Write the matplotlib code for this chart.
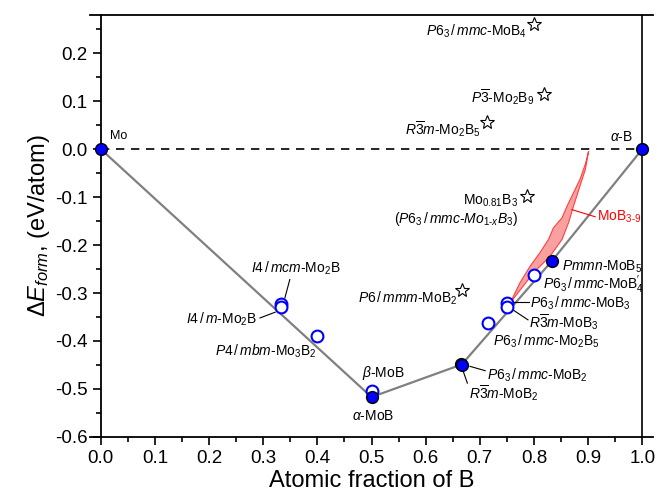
import matplotlib.pyplot as plt
import matplotlib.ticker as mticker

plt.rcParams['font.family'] = ['Liberation Sans', 'DejaVu Sans']
plt.rcParams['mathtext.fontset'] = 'custom'
plt.rcParams['mathtext.rm'] = 'Liberation Sans'
plt.rcParams['mathtext.it'] = 'Liberation Sans:italic'
plt.rcParams['axes.unicode_minus'] = False

# convex hull (stable phases)
hull_x = [0.0, 0.5, 0.6667, 0.8333, 1.0]
hull_y = [0.0, -0.517, -0.449, -0.233, 0.0]

# filled = ground state points
filled_x = [0.0, 1.0, 0.5, 0.665, 0.668, 0.8333]
filled_y = [0.0, 0.0, -0.517, -0.447, -0.451, -0.233]

# open = metastable structures
open_x = [0.3333, 0.3333, 0.4, 0.5, 0.7143, 0.75, 0.75, 0.8]
open_y = [-0.322, -0.330, -0.389, -0.505, -0.363, -0.321, -0.330, -0.262]

# stars = hypothetical / proposed
star_x = [0.8, 0.818, 0.714, 0.787, 0.667]
star_y = [0.262, 0.115, 0.056, -0.098, -0.294]

# MoB3-9 region
reg_left_x = [0.901, 0.895, 0.885, 0.873, 0.861, 0.852, 0.836, 0.827, 0.811, 0.793, 0.774, 0.759, 0.756]
reg_left_y = [-0.004, -0.031, -0.063, -0.091, -0.119, -0.143, -0.164, -0.188, -0.216, -0.244, -0.279, -0.314, -0.321]
reg_right_x = [0.762, 0.799, 0.830, 0.852, 0.864, 0.873, 0.885, 0.895, 0.901]
reg_right_y = [-0.312, -0.258, -0.223, -0.188, -0.153, -0.119, -0.077, -0.042, -0.004]

fig = plt.figure(figsize=(6.57, 4.97), dpi=100)
ax = fig.add_axes([0.137, 0.121, 0.857, 0.849])

ax.fill(reg_left_x + reg_right_x, reg_left_y + reg_right_y,
        facecolor='#f9a0a0', edgecolor='#ff4040', lw=0.8, zorder=1)
ax.plot([0, 1], [0, 0], ls=(0, (5, 4)), color='black', lw=1.2, zorder=1)
ax.plot(hull_x, hull_y, color='gray', lw=1.6, zorder=2)
ax.axvline(1.0, color='black', lw=1.2, zorder=1)

ax.plot(open_x, open_y, 'o', ms=8.5, mfc='white', mec='blue', mew=1.5, ls='none', zorder=3)
ax.plot(filled_x, filled_y, 'o', ms=8.5, mfc='blue', mec='black', mew=1.0, ls='none', zorder=4,
        clip_on=False)
ax.plot(star_x, star_y, '*', ms=10, mfc='white', mec='black', mew=0.8, ls='none', zorder=3)

fs = 10
ax.text(0.017, 0.027, 'Mo', fontsize=9, ha='left', va='center')
ax.text(0.983, 0.025, r'$\alpha$-B', fontsize=10, ha='right', va='center')
ax.text(0.787, 0.245, r'$P6_3\,/\,mmc$-MoB$_4$', fontsize=fs, ha='right', va='center')
ax.text(0.80, 0.109, r'$P\overline{3}$-Mo$_2$B$_9$', fontsize=fs, ha='right', va='center')
ax.text(0.702, 0.042, r'$R\overline{3}m$-Mo$_2$B$_5$', fontsize=fs, ha='right', va='center')
ax.text(0.771, -0.108, r'Mo$_{0.81}$B$_3$', fontsize=fs, ha='right', va='center')
ax.text(0.771, -0.146, r'($P6_3\,/\,mmc$-$Mo_{1\text{-}x}B_3$)', fontsize=fs, ha='right', va='center')
ax.text(0.658, -0.312, r'$P6\,/\,mmm$-MoB$_2$', fontsize=fs, ha='right', va='center')
ax.text(0.852, -0.245, r'$Pmmn$-MoB$_5$', fontsize=fs, ha='left', va='center')
ax.text(0.817, -0.283, r"$P6_3\,/\,mmc$-MoB$_4'$", fontsize=fs, ha='left', va='center')
ax.text(0.793, -0.321, r'$P6_3\,/\,mmc$-MoB$_3$', fontsize=fs, ha='left', va='center')
ax.text(0.791, -0.361, r'$R\overline{3}m$-MoB$_3$', fontsize=fs, ha='left', va='center')
ax.text(0.724, -0.401, r'$P6_3\,/\,mmc$-Mo$_2$B$_5$', fontsize=fs, ha='left', va='center')
ax.text(0.713, -0.472, r'$P6_3\,/\,mmc$-MoB$_2$', fontsize=fs, ha='left', va='center')
ax.text(0.680, -0.509, r'$R\overline{3}m$-MoB$_2$', fontsize=fs, ha='left', va='center')
ax.text(0.521, -0.466, r'$\beta$-MoB', fontsize=fs, ha='center', va='center')
ax.text(0.503, -0.557, r'$\alpha$-MoB', fontsize=fs, ha='center', va='center')
ax.text(0.361, -0.248, r'$I4\,/\,mcm$-Mo$_2$B', fontsize=fs, ha='center', va='center')
ax.text(0.288, -0.355, r'$I4\,/\,m$-Mo$_2$B', fontsize=fs, ha='right', va='center')
ax.text(0.399, -0.421, r'$P4\,/\,mbm$-Mo$_3$B$_2$', fontsize=fs, ha='right', va='center')
ax.text(0.917, -0.141, r'MoB$_{3\text{-}9}$', fontsize=fs, ha='left', va='center', color='red')

# leader lines
lw_l = 0.8
ax.plot([0.349, 0.340], [-0.272, -0.310], color='black', lw=lw_l)
ax.plot([0.294, 0.322], [-0.352, -0.340], color='black', lw=lw_l)
ax.plot([0.762, 0.791], [-0.318, -0.318], color='black', lw=lw_l)
ax.plot([0.761, 0.789], [-0.335, -0.356], color='black', lw=lw_l)
ax.plot([0.682, 0.710], [-0.453, -0.462], color='black', lw=lw_l)
ax.plot([0.669, 0.677], [-0.462, -0.488], color='black', lw=lw_l)
ax.plot([0.870, 0.913], [-0.126, -0.141], color='red', lw=lw_l)

ax.set_xlim(-0.02, 1.02)
ax.set_ylim(-0.6, 0.28)
ax.spines['right'].set_visible(False)
ax.spines['left'].set_position(('data', 0))
for s in ['left', 'bottom', 'top']:
    ax.spines[s].set_linewidth(1.3)

ax.xaxis.set_major_locator(mticker.MultipleLocator(0.1))
ax.xaxis.set_minor_locator(mticker.MultipleLocator(0.05))
ax.yaxis.set_major_locator(mticker.MultipleLocator(0.1))
ax.yaxis.set_minor_locator(mticker.MultipleLocator(0.05))
ax.xaxis.set_major_formatter(mticker.FormatStrFormatter('%.1f'))
ax.yaxis.set_major_formatter(mticker.FormatStrFormatter('%.1f'))
ax.set_xticks([t / 10 for t in range(11)])
ax.tick_params(which='both', direction='out', top=False, right=False, width=1.2)
ax.tick_params(which='major', length=6, labelsize=13.5)
ax.tick_params(which='minor', length=3.5)

ax.set_xlabel('Atomic fraction of B', fontsize=17, labelpad=2)
ax.set_ylabel(r'$\Delta E_{form}$, (eV/atom)', fontsize=17, labelpad=2)

fig.savefig('out.png', dpi=100)
